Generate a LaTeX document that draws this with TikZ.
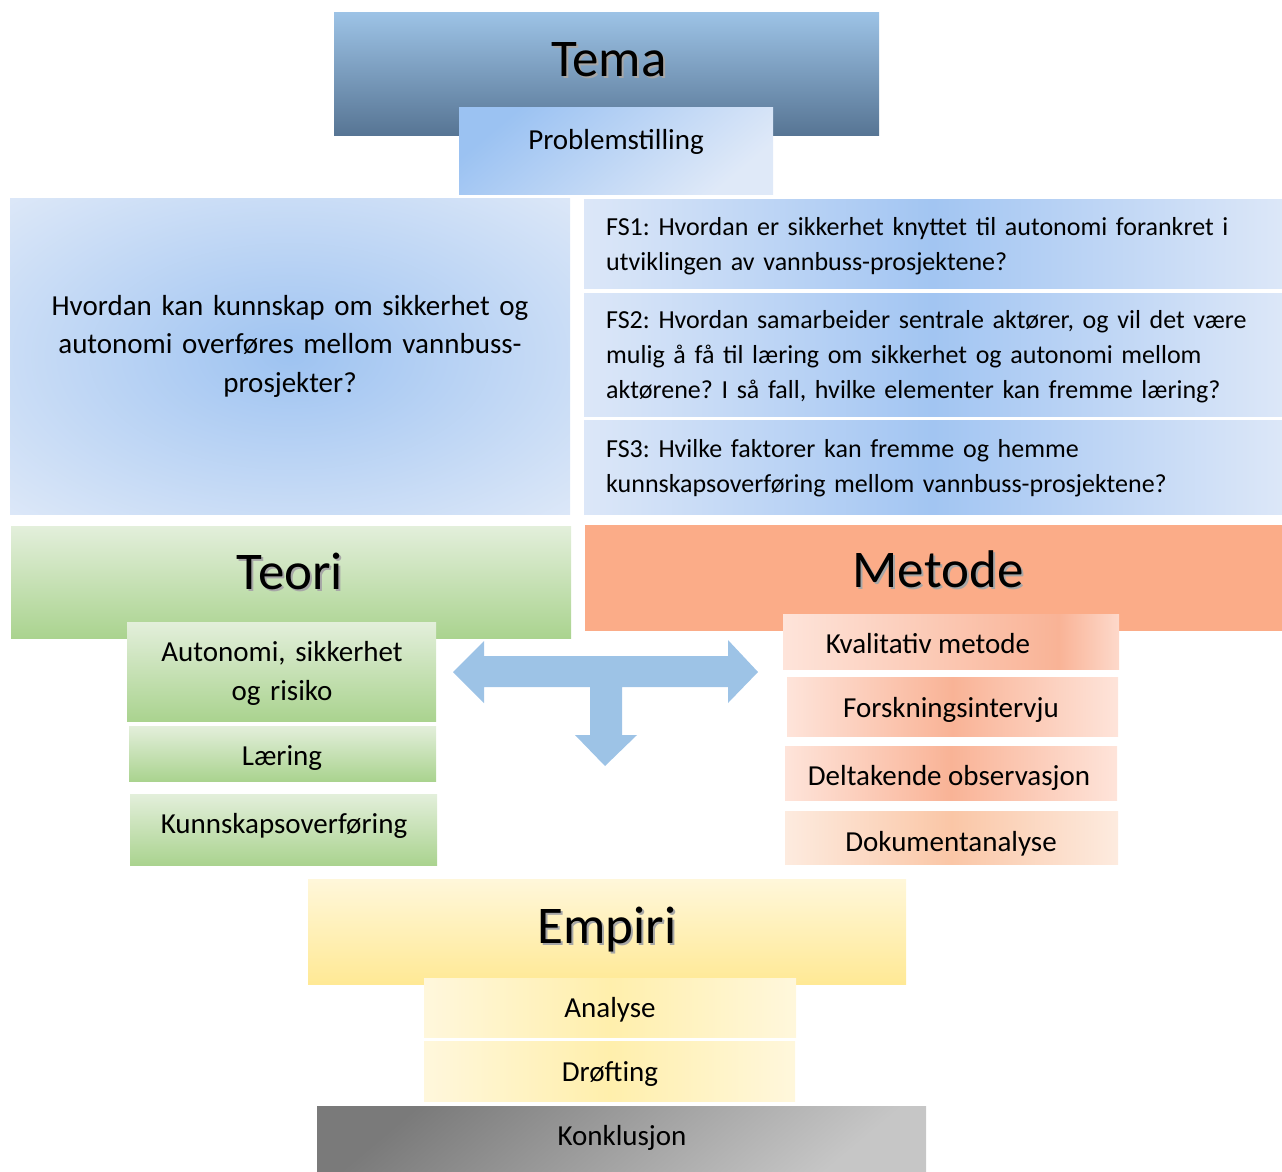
\documentclass[tikz,border=0pt]{standalone}
\usepackage{fontspec}
\setmainfont{Carlito}
\definecolor{temaTop}{HTML}{9DC3E6}
\definecolor{temaBot}{HTML}{577594}
\definecolor{probA}{HTML}{9BC2F2}
\definecolor{probB}{HTML}{DFE9F8}
\definecolor{blueIn}{HTML}{9EC3F1}
\definecolor{blueOut}{HTML}{DDE8F8}
\definecolor{fsEdge}{HTML}{DCE7F8}
\definecolor{fsMid}{HTML}{A2C5F2}
\definecolor{grTop}{HTML}{E3EFDB}
\definecolor{grBot}{HTML}{AAD38F}
\definecolor{metode}{HTML}{FBAC88}
\definecolor{peachL}{HTML}{FEE4DA}
\definecolor{peachR}{HTML}{FDD9CB}
\definecolor{peachD}{HTML}{F9B396}
\definecolor{peachL2}{HTML}{FDEBDF}
\definecolor{peachD2}{HTML}{FAC6A6}
\definecolor{yeTop}{HTML}{FFF7DA}
\definecolor{yeBot}{HTML}{FFE995}
\definecolor{yeL}{HTML}{FFF7DC}
\definecolor{yeM}{HTML}{FFEFAC}
\definecolor{koA}{HTML}{7A7A7A}
\definecolor{koB}{HTML}{C6C6C6}
\definecolor{arrowc}{HTML}{9DC3E6}
\pgfdeclarehorizontalshading{kvalshade}{100bp}{color(0bp)=(peachL); color(25bp)=(peachL); color(66bp)=(peachD); color(75bp)=(peachR); color(100bp)=(peachR)}
\pgfdeclareradialshading{bigradial}{\pgfpoint{0bp}{0bp}}{color(0bp)=(blueIn); color(36bp)=(blueOut); color(50bp)=(blueOut)}
\tikzset{
  txt/.style={inner sep=0pt, anchor=base, font=\fontsize{29}{35}\selectfont},
  fstxt/.style={inner sep=0pt, anchor=base west, text width=690pt, align=left, font=\fontsize{26}{35}\selectfont},
  ttl/.style={inner sep=0pt, anchor=base, font=\fontsize{53}{60}\selectfont},
  ttlshadow/.style={ttl, text=black!35},
  greenbox/.style={top color=grTop, bottom color=grBot},
  fsbox/.style={left color=fsEdge, right color=fsEdge, middle color=fsMid},
  peachbox/.style={left color=peachL, right color=peachL, middle color=peachD},
  yellowsub/.style={left color=yeL, right color=yeL, middle color=yeM},
}
\begin{document}
\frenchspacing
\begin{tikzpicture}[x=1pt,y=-1pt]
\useasboundingbox (0,0) rectangle (1282,1171);
% Tema
\path[top color=temaTop, bottom color=temaBot] (334,12) rectangle (879,135);
\node[ttlshadow] (temaS) at (611,78) {Tema};
\node[ttl] (tema) at (609,76) {Tema};
\path[top color=probA, bottom color=probB, shading angle=40] (459,107) rectangle (773,194);
\node[txt] (prob) at (616,149) {Problemstilling};
% main question
\path[shading=bigradial] (10,198) rectangle (570,514);
\node[txt, text width=560pt, align=center, font=\fontsize{29}{38.5}\selectfont] (hq) at (290,315)
  {Hvordan kan kunnskap om sikkerhet og\\autonomi overføres mellom vannbuss-\\prosjekter?};
% FS
\path[fsbox] (584,199) rectangle (1282,288);
\path[fsbox] (584,293) rectangle (1282,416);
\path[fsbox] (584,420) rectangle (1282,514);
\node[fstxt] (fs1) at (606,235)
  {FS1: Hvordan er sikkerhet knyttet til autonomi forankret i\\utviklingen av vannbuss-prosjektene?};
\node[fstxt] (fs2) at (606,328)
  {FS2: Hvordan samarbeider sentrale aktører, og vil det være\\mulig å få til læring om sikkerhet og autonomi mellom\\aktørene? I så fall, hvilke elementer kan fremme læring?};
\node[fstxt] (fs3) at (606,457)
  {FS3: Hvilke faktorer kan fremme og hemme\\kunnskapsoverføring mellom vannbuss-prosjektene?};
% Teori
\path[greenbox] (11,526) rectangle (571,638);
\node[ttlshadow] (teoriS) at (292,591) {Teori};
\node[ttl] (teori) at (290,589) {Teori};
\path[greenbox] (127,622) rectangle (436,721);
\node[txt, text width=300pt, align=center, font=\fontsize{29}{39}\selectfont] (aut) at (282,661) {Autonomi, sikkerhet\\og risiko};
\path[greenbox] (129,726) rectangle (436,781);
\node[txt] (laer) at (282,765) {Læring};
\path[greenbox] (130,794) rectangle (437,865);
\node[txt] (kunn) at (284,833) {Kunnskapsoverføring};
% Metode
\fill[metode] (585,525) rectangle (1282,631);
\node[ttlshadow] (metodeS) at (940,589) {Metode};
\node[ttl] (metode) at (938,587) {Metode};
\path[shading=kvalshade] (783,614) rectangle (1119,669);
\node[txt] (kval) at (928,653) {Kvalitativ metode};
\path[peachbox] (787,677) rectangle (1118,736);
\node[txt] (fors) at (951,717) {Forskningsintervju};
\path[peachbox] (785,746) rectangle (1117,800);
\node[txt] (delt) at (949,785) {Deltakende observasjon};
\path[left color=peachL2, right color=peachL2, middle color=peachD2] (785,811) rectangle (1118,864);
\node[txt] (dok) at (951,851) {Dokumentanalyse};
% arrow
\fill[arrowc] (453,672) -- (484,641) -- (484,656) -- (728,656) -- (728,640) -- (758,672)
  -- (728,703) -- (728,687) -- (622,687) -- (622,735) -- (637,735) -- (605,766)
  -- (575,735) -- (590,735) -- (590,687) -- (484,687) -- (484,703) -- cycle;
% Empiri
\path[top color=yeTop, bottom color=yeBot] (308,879) rectangle (906,984);
\node[ttlshadow] (empS) at (609,945) {Empiri};
\node[ttl] (emp) at (607,943) {Empiri};
\path[yellowsub] (424,978) rectangle (796,1037);
\node[txt] (ana) at (610,1017) {Analyse};
\path[yellowsub] (424,1041) rectangle (795,1101);
\node[txt] (dro) at (610,1081) {Drøfting};
% Konklusjon
\path[top color=koA, bottom color=koB, shading angle=40] (317,1106) rectangle (926,1171);
\node[txt] (konk) at (622,1145) {Konklusjon};
\end{tikzpicture}
\end{document}
